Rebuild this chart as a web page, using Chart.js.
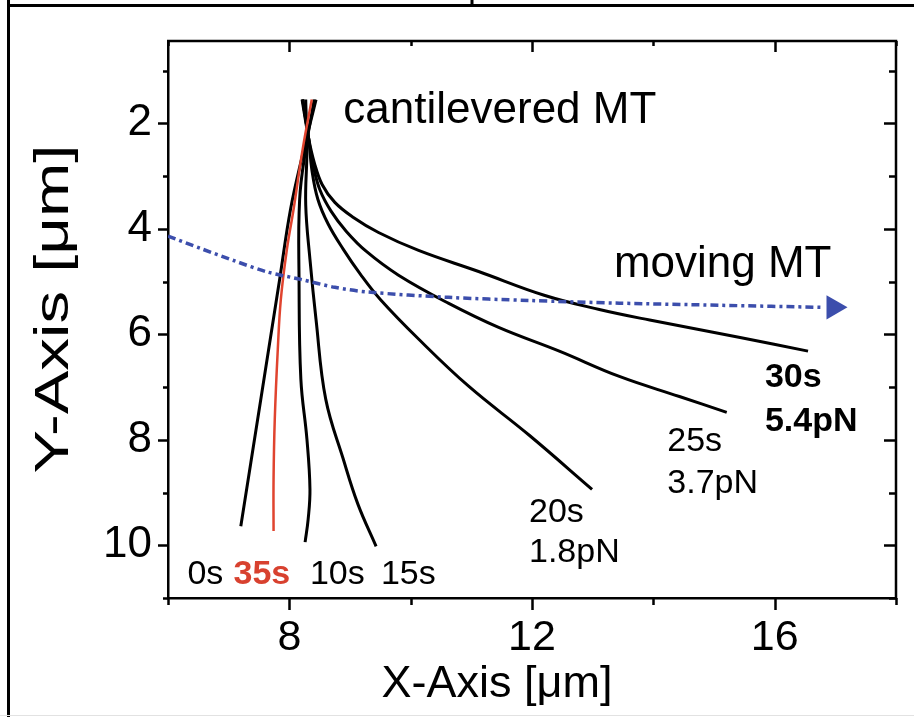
<!DOCTYPE html>
<html>
<head>
<meta charset="utf-8">
<title>Cantilevered MT deflection</title>
<script src="https://cdn.jsdelivr.net/npm/chart.js@4.4.1/dist/chart.umd.min.js"></script>
<style>
  html, body { margin: 0; padding: 0; background: #fff; }
  #wrap { width: 914px; height: 717px; position: relative; }
  canvas { display: block; }
</style>
</head>
<body>
<div id="wrap"><canvas id="c" width="914" height="717"></canvas></div>
<script>
// ---- axis ticks ----
const xTicks = [6, 8, 10, 12, 14, 16, 18];
const xLabelled = [8, 12, 16];
const yTicks = [1, 2, 3, 4, 5, 6, 7, 8, 9, 10, 11];
const yLabelled = [2, 4, 6, 8, 10];

// ---- traced filament shapes, [x µm, y µm] ----
const mt0s = [[8.44,1.55],[8.22,2.59],[8.02,3.63],[7.84,4.96],[7.53,7.23],[7.20,9.64]];
const mt35s = [[8.37,1.55],[8.22,2.49],[8.07,3.63],[7.96,4.39],[7.86,5.34],[7.81,6.28],[7.76,7.61],[7.74,8.75],[7.74,9.73]];
const mt10s = [[8.41,1.55],[8.27,2.49],[8.17,3.44],[8.16,4.96],[8.19,6.85],[8.29,7.99],[8.34,8.94],[8.31,9.51],[8.26,9.94]];
const mt15s = [[8.27,1.55],[8.29,2.49],[8.27,3.54],[8.34,4.58],[8.44,5.72],[8.60,7.23],[8.89,8.37],[9.13,9.22],[9.43,10.02]];
const mt20s = [[8.22,1.55],[8.32,2.30],[8.37,2.87],[8.47,3.44],[8.64,3.91],[8.89,4.39],[9.17,4.86],[9.50,5.34],[10.13,6.09],[10.96,6.99],[11.95,7.91],[12.99,8.94]];
const mt25s = [[8.22,1.55],[8.32,2.30],[8.39,2.78],[8.50,3.25],[8.69,3.67],[8.94,4.05],[9.27,4.43],[9.80,4.88],[10.62,5.41],[11.45,5.87],[12.45,6.32],[13.44,6.80],[14.43,7.18],[15.21,7.48]];
const mt30s = [[8.21,1.55],[8.32,2.30],[8.41,2.74],[8.54,3.16],[8.75,3.50],[9.05,3.78],[9.47,4.07],[10.13,4.41],[11.12,4.81],[12.20,5.26],[13.11,5.53],[13.94,5.73],[15.43,6.06],[16.55,6.32]];

// gliding microtubule path and its arrow head
const movingMT = [[6.00,4.14],[6.53,4.37],[7.10,4.61],[7.64,4.82],[8.19,4.96],[8.75,5.11],[9.30,5.20],[10.62,5.30],[11.95,5.36],[13.44,5.41],[15.09,5.45],[16.80,5.49]];
const movingHead = [[16.97,5.49]];

// ---- text labels: [text, x µm, y µm (baseline), size, bold, colour] ----
const notes = [
  ['cantilevered MT', 8.89, 2.00, 44, false, '#000'],
  ['moving MT', 13.35, 4.92, 44, false, '#000'],
  ['0s', 6.32, 10.74, 34, false, '#000'],
  ['35s', 7.08, 10.74, 34, true, '#d8412f'],
  ['10s', 8.34, 10.74, 34, false, '#000'],
  ['15s', 9.51, 10.74, 34, false, '#000'],
  ['20s', 11.95, 9.56, 34, false, '#000'],
  ['1.8pN', 11.95, 10.32, 34, false, '#000'],
  ['25s', 14.23, 8.22, 34, false, '#000'],
  ['3.7pN', 14.23, 9.00, 34, false, '#000'],
  ['30s', 15.84, 7.00, 34, true, '#000'],
  ['5.4pN', 15.84, 7.84, 34, true, '#000']
];

const FONT = "'Liberation Sans', Arial, Helvetica, sans-serif";
const BLUE = '#3c4eac';
const RED = '#e0442f';
const pts = arr => arr.map(([x, y]) => ({ x, y }));

function curve(data, color, width) {
  return {
    data: pts(data), borderColor: color, borderWidth: width,
    pointRadius: 0, pointHoverRadius: 0, tension: 0.4, fill: false,
    borderCapStyle: 'butt', borderJoinStyle: 'round'
  };
}

const datasets = [
  {
    data: pts(movingHead), showLine: false, pointStyle: 'triangle',
    pointRadius: 14, pointRotation: 90, backgroundColor: BLUE,
    borderColor: BLUE, borderWidth: 0
  },
  Object.assign(curve(movingMT, BLUE, 3.5), { borderDash: [8, 4, 3, 4], tension: 0.3 }),
  curve(mt35s, RED, 2.5),
  curve(mt0s, '#000', 3),
  curve(mt10s, '#000', 3),
  curve(mt15s, '#000', 3),
  curve(mt20s, '#000', 3),
  curve(mt25s, '#000', 3),
  curve(mt30s, '#000', 3)
];

// frame, inward/outward ticks, axis titles and text labels
const decor = {
  id: 'decor',
  afterDraw(chart) {
    const { ctx, chartArea: a, scales: { x, y } } = chart;
    ctx.save();
    ctx.lineCap = 'butt';

    // panel borders
    ctx.strokeStyle = '#000';
    ctx.lineWidth = 3;
    ctx.beginPath();
    ctx.moveTo(8.5, 0); ctx.lineTo(8.5, 717);
    ctx.moveTo(7, 5.5); ctx.lineTo(914, 5.5);
    ctx.moveTo(472, 0); ctx.lineTo(472, 5.5);
    ctx.stroke();
    ctx.strokeStyle = '#e2e2e2';
    ctx.lineWidth = 1;
    ctx.beginPath();
    ctx.moveTo(0, 715.5); ctx.lineTo(914, 715.5);
    ctx.stroke();

    // top and right box edges
    ctx.strokeStyle = '#000';
    ctx.lineWidth = 2.5;
    ctx.beginPath();
    ctx.moveTo(a.left - 1, a.top); ctx.lineTo(a.right, a.top); ctx.lineTo(a.right, a.bottom + 1);
    ctx.stroke();

    // tick marks
    ctx.lineWidth = 2.5;
    ctx.beginPath();
    xTicks.forEach(v => {
      const px = Math.round(x.getPixelForValue(v)) + 0.5;
      const major = xLabelled.includes(v);
      ctx.moveTo(px, a.bottom); ctx.lineTo(px, a.bottom + (major ? 12 : 7));
      ctx.moveTo(px, a.top); ctx.lineTo(px, a.top + (major ? 11 : 5));
    });
    yTicks.forEach(v => {
      const py = Math.round(y.getPixelForValue(v)) + 0.5;
      const major = yLabelled.includes(v);
      ctx.moveTo(a.left, py); ctx.lineTo(a.left - (major ? 10 : 5), py);
      ctx.moveTo(a.right, py); ctx.lineTo(a.right - (major ? 12 : 7), py);
    });
    ctx.stroke();

    // axis titles
    ctx.fillStyle = '#000';
    ctx.font = `45px ${FONT}`;
    ctx.textAlign = 'center';
    ctx.textBaseline = 'alphabetic';
    ctx.fillText('X-Axis [\u03bcm]', 497, 697);
    ctx.save();
    ctx.translate(68, 309);
    ctx.rotate(-Math.PI / 2);
    ctx.scale(1.45, 1.05);
    ctx.fillText('Y-Axis [\u03bcm]', 0, 0);
    ctx.restore();

    // labels beside the filaments
    ctx.textAlign = 'left';
    notes.forEach(([t, nx, ny, size, bold, color]) => {
      ctx.font = `${bold ? 'bold ' : ''}${size}px ${FONT}`;
      ctx.fillStyle = color;
      ctx.fillText(t, x.getPixelForValue(nx), y.getPixelForValue(ny));
    });
    ctx.restore();
  }
};

new Chart(document.getElementById('c'), {
  type: 'line',
  data: { datasets },
  options: {
    responsive: false,
    animation: false,
    devicePixelRatio: 1,
    events: [],
    layout: { padding: { left: 0, right: 18, top: 41, bottom: 59 } },
    plugins: { legend: { display: false }, tooltip: { enabled: false } },
    scales: {
      x: {
        type: 'linear', position: 'bottom', min: 6, max: 18,
        afterBuildTicks: s => { s.ticks = xTicks.map(v => ({ value: v })); },
        afterFit: s => { s.height = 60; },
        ticks: {
          autoSkip: false, maxRotation: 0, padding: 2, color: '#000',
          font: { family: FONT, size: 43 },
          callback: v => (xLabelled.includes(v) ? String(v) : '')
        },
        grid: { drawOnChartArea: false, drawTicks: true, tickLength: 12, tickColor: 'rgba(0,0,0,0)' },
        border: { display: true, color: '#000', width: 2.5 }
      },
      y: {
        type: 'linear', position: 'left', reverse: true, min: 0.44, max: 11,
        afterBuildTicks: s => { s.ticks = yTicks.map(v => ({ value: v })); },
        afterFit: s => { s.width = 168; },
        ticks: {
          autoSkip: false, padding: 6, color: '#000',
          font: { family: FONT, size: 44 },
          callback: v => (yLabelled.includes(v) ? String(v) : '')
        },
        grid: { drawOnChartArea: false, drawTicks: true, tickLength: 10, tickColor: 'rgba(0,0,0,0)' },
        border: { display: true, color: '#000', width: 2.5 }
      }
    }
  },
  plugins: [decor]
});
</script>
</body>
</html>
